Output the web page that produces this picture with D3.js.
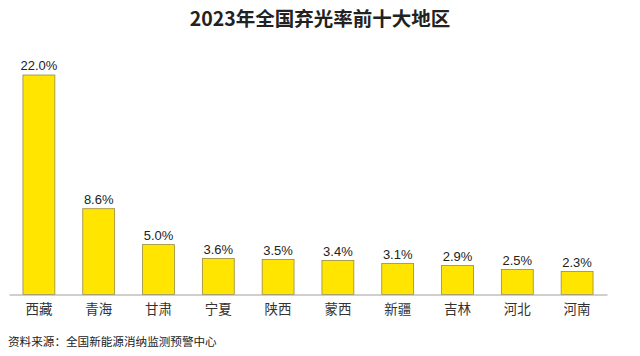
<!DOCTYPE html>
<html><head><meta charset="utf-8">
<script src="https://cdn.jsdelivr.net/npm/d3@7"></script>
<style>body{margin:0;background:#fff}</style>
</head><body><svg id="c" width="640" height="356"></svg>
<script>
const title = "2023年全国弃光率前十大地区";
const source = "资料来源：全国新能源消纳监测预警中心";
const categories = ["西藏","青海","甘肃","宁夏","陕西","蒙西","新疆","吉林","河北","河南"];
const values = [22.0, 8.6, 5.0, 3.6, 3.5, 3.4, 3.1, 2.9, 2.5, 2.3];

const svg = d3.select("#c");
const baseY = 294.5;
const x = d3.scaleBand().domain(categories).range([9, 607]).paddingInner(0.45).paddingOuter(0.225);
const y = d3.scaleLinear().domain([0, 22]).range([baseY, 75]);

svg.append("rect").attr("width",640).attr("height",356).attr("fill","#fff");

svg.append("text").attr("x",320).attr("y",25.5).attr("text-anchor","middle")
  .attr("font-family","'Noto Sans CJK SC', sans-serif").attr("font-weight","bold")
  .attr("font-size",19.5).attr("fill","#222").text(title);

svg.selectAll("rect.bar").data(values).enter().append("rect").attr("class","bar")
  .attr("x",(d,i)=>x(categories[i])+0.5).attr("y",d=>y(d))
  .attr("width",x.bandwidth()-1).attr("height",d=>baseY-y(d))
  .attr("fill","#FFE500").attr("stroke","#9a8a3c").attr("stroke-width",0.8);

const axis = d3.axisBottom(x).tickSize(0).tickPadding(10);
const ag = svg.append("g").attr("transform",`translate(0,${baseY})`).call(axis);
ag.select(".domain").attr("stroke","#a0a0a0").attr("stroke-width",1);
ag.selectAll("text").attr("font-family","'Noto Sans CJK SC', sans-serif").attr("font-size",13.5).attr("fill","#333");

svg.selectAll("text.val").data(values).enter().append("text").attr("class","val")
  .attr("x",(d,i)=>x(categories[i])+x.bandwidth()/2).attr("y",d=>y(d)-5)
  .attr("text-anchor","middle").attr("font-family","'Liberation Sans', Arial, sans-serif")
  .attr("font-size",13).attr("fill","#222").text(d=>d.toFixed(1)+"%");

svg.append("text").attr("x",8).attr("y",346)
  .attr("font-family","'Noto Sans CJK SC', sans-serif").attr("font-size",11.6).attr("fill","#222").text(source);
</script></body></html>
